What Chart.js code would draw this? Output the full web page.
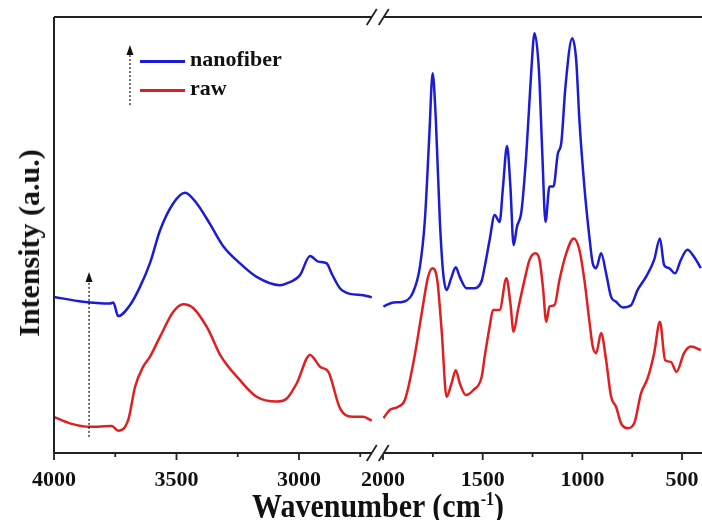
<!DOCTYPE html>
<html>
<head>
<meta charset="utf-8">
<script src="https://cdn.jsdelivr.net/npm/chart.js@4.4.0/dist/chart.umd.min.js"></script>
<style>
  html, body { margin: 0; padding: 0; background: #fff; }
  #wrap { position: relative; width: 702px; height: 520px; overflow: hidden;
          font-family: 'Liberation Serif', 'Times New Roman', serif; font-weight: bold; color: #111; }
  #wrap canvas { position: absolute; left: 0; top: 0; }
  .txt { position: absolute; white-space: nowrap; }
  .key { position: absolute; height: 3px; }
</style>
</head>
<body>
<div id="wrap">
  <canvas id="left" width="702" height="520"></canvas>
  <canvas id="right" width="702" height="520"></canvas>
  <div class="key" style="left:140px; top:60px; width:45px; background:#1c1cd6"></div>
  <div class="txt" style="left:190px; top:48px; font-size:22px; line-height:22px">nanofiber</div>
  <div class="key" style="left:140px; top:88.5px; width:45px; background:#e02020"></div>
  <div class="txt" style="left:190px; top:76.5px; font-size:22px; line-height:22px">raw</div>
  <div class="txt" style="left:378px; top:482px; font-size:30px; line-height:30px; transform-origin:0 0; transform:translateX(-50%) scaleY(1.15)">Wavenumber (cm<sup style="font-size:16px; vertical-align:10px">-1</sup>)</div>
  <div class="txt" style="left:29px; top:243px; font-size:30px; line-height:30px; transform:translate(-50%,-50%) rotate(-90deg)">Intensity (a.u.)</div>
</div>
<script>
// wavenumber (cm-1), intensity (a.u.)
const nanofiberHigh = [[4000,35.8],[3882,34.7],[3771,34.3],[3758,34.5],[3738,31.4],[3690,33.9],[3649,38.1],[3608,43.6],[3567,51.1],[3513,57.3],[3465,59.7],[3418,57.3],[3363,52.5],[3310,47.5],[3241,43.5],[3173,40.4],[3078,38.5],[3050,38.9],[2996,40.8],[2955,45.2],[2921,43.9],[2887,43.5],[2867,41.2],[2833,37.8],[2792,36.5],[2738,36.2],[2703,35.7]];
const rawHigh = [[4000,8.3],[3935,6.8],[3853,6.0],[3764,6.2],[3738,5.1],[3697,7.6],[3669,15.2],[3636,19.8],[3608,22.1],[3567,26.7],[3513,32.4],[3472,34.1],[3431,33.2],[3377,29.0],[3363,27.5],[3322,22.5],[3241,16.7],[3173,12.9],[3091,11.8],[3050,12.5],[3009,16.0],[2955,22.5],[2914,19.8],[2880,18.6],[2833,10.3],[2778,8.3],[2738,8.3],[2703,7.4]];
const nanofiberLow = [[1998,33.6],[1948,34.5],[1898,34.7],[1848,37.0],[1815,42.7],[1790,53.4],[1768,72.5],[1751,87.1],[1735,76.4],[1715,53.4],[1698,41.2],[1681,37.4],[1656,40.4],[1635,42.6],[1615,40.4],[1581,37.8],[1540,37.8],[1505,39.5],[1490,42.7],[1465,48.9],[1440,54.6],[1415,53.0],[1398,61.1],[1378,70.4],[1361,61.1],[1345,47.7],[1328,51.9],[1306,55.3],[1281,68.7],[1256,87.8],[1240,96.3],[1218,87.8],[1201,68.7],[1185,53.0],[1165,61.1],[1145,61.1],[1123,68.7],[1106,71.0],[1085,84.0],[1051,95.1],[1031,90.1],[1015,76.4],[990,61.1],[965,49.6],[948,43.5],[931,42.4],[906,45.8],[881,41.2],[856,35.8],[831,34.7],[798,33.4],[756,33.9],[723,37.4],[681,40.4],[640,44.3],[611,49.2],[590,43.1],[565,42.4],[535,41.2],[506,44.3],[473,46.6],[440,45.0],[406,42.4]];
const rawLow = [[1998,8.0],[1965,9.9],[1924,10.6],[1890,12.2],[1848,20.6],[1806,32.0],[1774,40.4],[1751,42.4],[1728,39.7],[1706,28.2],[1681,12.9],[1656,16.0],[1635,19.0],[1615,16.0],[1585,13.3],[1548,14.4],[1505,17.5],[1490,22.1],[1465,29.0],[1448,32.8],[1415,32.8],[1381,40.1],[1361,34.3],[1345,27.8],[1323,32.8],[1290,39.7],[1265,44.3],[1235,45.8],[1215,44.3],[1198,38.1],[1181,30.1],[1165,33.6],[1140,33.9],[1115,39.7],[1081,45.8],[1043,49.2],[1015,46.6],[990,39.7],[965,30.3],[948,24.4],[931,22.9],[906,27.5],[881,21.3],[856,12.9],[831,10.6],[806,6.8],[773,5.7],[740,6.8],[706,13.7],[673,17.1],[640,22.9],[611,30.1],[585,21.3],[556,20.9],[528,18.6],[490,22.9],[456,24.4],[406,23.6]];

const highTicks = [4000, 3750, 3500, 3250, 3000, 2750];
const lowTicks = [2000, 1750, 1500, 1250, 1000, 750, 500];
const tickLabels = [4000, 3500, 3000, 2000, 1500, 1000, 500];

// dotted arrows (wavenumber, from / to intensity)
const arrows = [[3690, 79.8, 93.6], [3857, 3.7, 41.5]];

const BLUE = '#1c1cd6', RED = '#e02020';

function series(data, color) {
  return { data, borderColor: color, borderWidth: 2.5, pointRadius: 0,
           cubicInterpolationMode: 'monotone', fill: false };
}

function xScale(min, max, ticks) {
  return {
    type: 'linear', min, max, reverse: true,
    afterBuildTicks: s => { s.ticks = ticks.map(v => ({ value: v })); },
    // fixed axis height, and no extra side padding for edge labels
    afterFit: s => { s.height = 67; s.paddingLeft = 0; s.paddingRight = 0; },
    grid: { display: false, drawTicks: false },
    border: { display: false },
    ticks: {
      autoSkip: false, maxRotation: 0, padding: 14, color: '#111',
      font: { family: 'Liberation Serif', weight: 'bold', size: 22 },
      callback: v => tickLabels.includes(v) ? String(v) : ''
    }
  };
}

const yScale = { display: false, min: 0, max: 100 };

// tick marks drawn by hand so majors can be longer than minors
const tickMarks = {
  id: 'tickMarks',
  afterDraw(chart) {
    const ctx = chart.ctx, s = chart.scales.x, y0 = chart.chartArea.bottom;
    ctx.save();
    ctx.strokeStyle = '#222';
    ctx.lineWidth = 1.8;
    s.ticks.forEach(t => {
      const x = s.getPixelForValue(t.value);
      const len = tickLabels.includes(t.value) ? 7 : 4;
      ctx.beginPath();
      ctx.moveTo(x, y0);
      ctx.lineTo(x, y0 + len);
      ctx.stroke();
    });
    ctx.restore();
  }
};

const arrowPlugin = {
  id: 'arrows',
  afterDatasetsDraw(chart) {
    const ctx = chart.ctx, xs = chart.scales.x, ys = chart.scales.y;
    ctx.save();
    ctx.strokeStyle = '#111';
    ctx.fillStyle = '#111';
    ctx.lineWidth = 1.2;
    arrows.forEach(([wn, a, b]) => {
      const x = xs.getPixelForValue(wn), y1 = ys.getPixelForValue(a), y2 = ys.getPixelForValue(b);
      ctx.setLineDash([2, 2]);
      ctx.beginPath();
      ctx.moveTo(x, y1);
      ctx.lineTo(x, y2 + 8);
      ctx.stroke();
      ctx.setLineDash([]);
      ctx.beginPath();
      ctx.moveTo(x, y2);
      ctx.lineTo(x - 3.5, y2 + 10);
      ctx.lineTo(x + 3.5, y2 + 10);
      ctx.closePath();
      ctx.fill();
    });
    ctx.restore();
  }
};

const common = {
  type: 'line',
  options: {
    responsive: false, animation: false, devicePixelRatio: 1, events: [],
    plugins: { legend: { display: false }, tooltip: { enabled: false } }
  }
};

const leftChart = new Chart(document.getElementById('left'), {
  type: 'line',
  data: { datasets: [series(nanofiberHigh, BLUE), series(rawHigh, RED)] },
  options: {
    ...common.options,
    layout: { padding: { left: 54, right: 329.5, top: 17, bottom: 0 } },
    scales: { x: xScale(2700, 4000, highTicks), y: yScale }
  },
  plugins: [tickMarks, arrowPlugin]
});

// frame and axis-break marks, drawn over both panels
const frame = {
  id: 'frame',
  afterDraw(chart) {
    const ctx = chart.ctx, a = chart.chartArea;
    const left = leftChart.chartArea.left;
    ctx.save();
    ctx.strokeStyle = '#222';
    ctx.lineWidth = 2;
    ctx.beginPath();
    ctx.moveTo(left, a.top);
    ctx.lineTo(a.right, a.top);
    ctx.moveTo(left, a.top);
    ctx.lineTo(left, a.bottom);
    ctx.moveTo(left, a.bottom);
    ctx.lineTo(a.right, a.bottom);
    ctx.stroke();
    const gap = (leftChart.chartArea.right + a.left) / 2;
    [a.top, a.bottom].forEach(y => {
      ctx.fillStyle = '#fff';
      ctx.fillRect(gap - 6, y - 2, 12, 4);
      ctx.lineWidth = 1.8;
      [-6, 6].forEach(dx => {
        ctx.beginPath();
        ctx.moveTo(gap + dx - 5, y + 8);
        ctx.lineTo(gap + dx + 5, y - 8);
        ctx.stroke();
      });
    });
    ctx.restore();
  }
};

new Chart(document.getElementById('right'), {
  type: 'line',
  data: { datasets: [series(nanofiberLow, BLUE), series(rawLow, RED)] },
  options: {
    ...common.options,
    layout: { padding: { left: 383, right: 0, top: 17, bottom: 0 } },
    scales: { x: xScale(400, 2000, lowTicks), y: yScale }
  },
  plugins: [tickMarks, frame]
});
</script>
</body>
</html>
